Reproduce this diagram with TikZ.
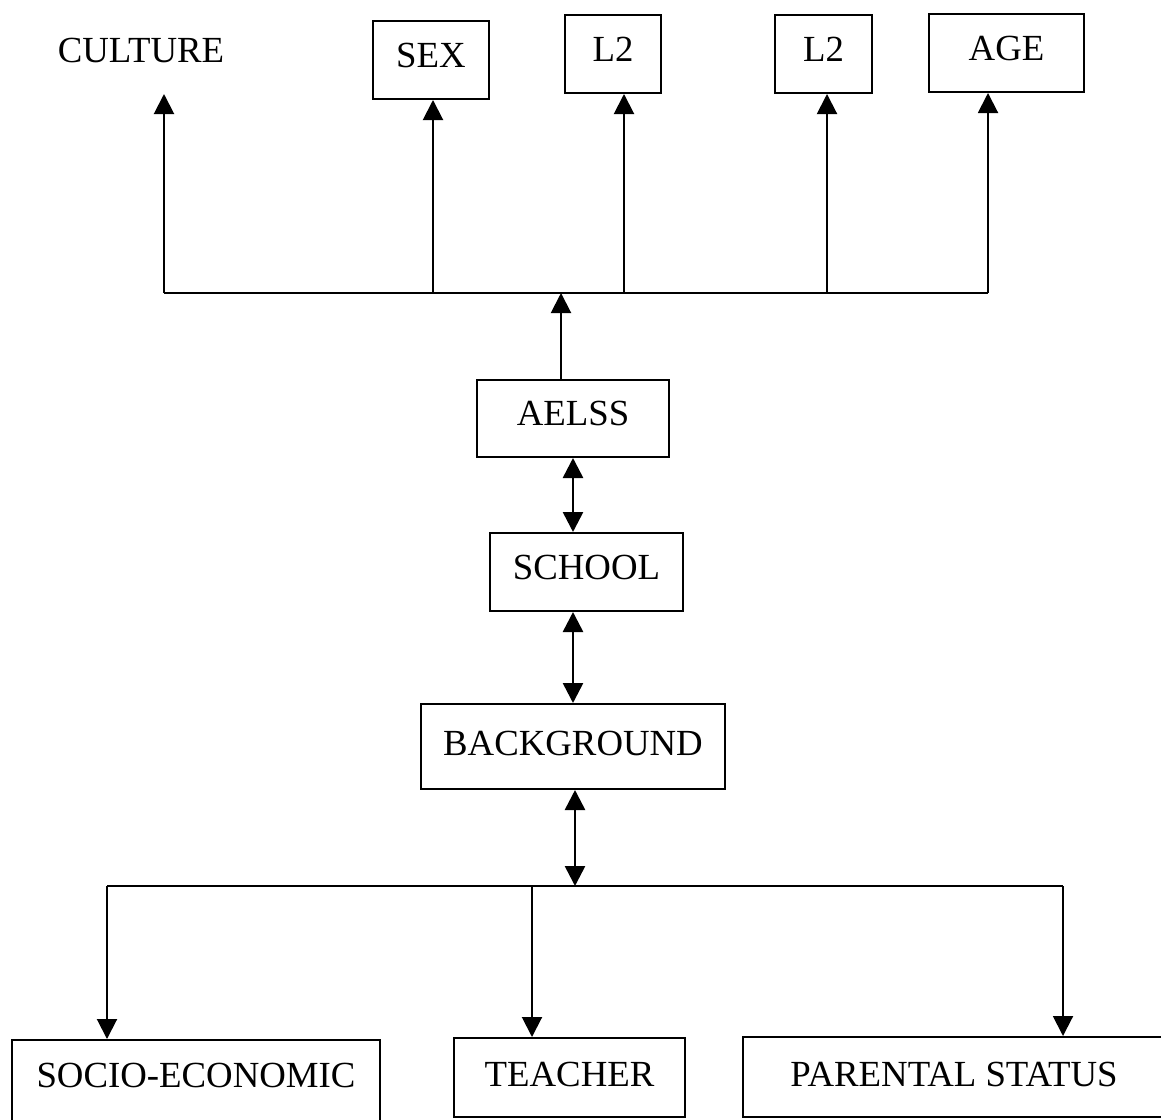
\documentclass[tikz,border=0pt]{standalone}
\usepackage{fontspec}
\setmainfont{Liberation Serif}
\usetikzlibrary{arrows.meta}

\begin{document}
\begin{tikzpicture}[x=0.5pt,y=-0.5pt,line width=1pt,>={Triangle[width=10pt,length=10pt]},
    box/.style={draw,inner sep=0pt,text depth=5pt,font=\fontsize{18.4}{22}\selectfont}]
                \useasboundingbox (0,0) rectangle (1161,1119);
                % top row
                \node[inner sep=0pt,minimum height=43pt,font=\fontsize{18.4}{22}\selectfont](culture) at (141,50) {CULTURE};
                \node[box,minimum width=58pt,minimum height=39pt](sex) at (431,60) {SEX};
                \node[box,minimum width=48pt,minimum height=39pt](lang1) at (613,54) {L2};
                \node[box,minimum width=48.5pt,minimum height=39pt](lang2) at (823.5,54) {L2};
                \node[box,minimum width=77.5pt,minimum height=39pt](age) at (1006.5,53) {AGE};
                % middle column
                \node[box,minimum width=96pt,minimum height=38.5pt](aelss) at (573,418.5) {AELSS};
                \node[box,minimum width=96.5pt,minimum height=39pt](school) at (586.5,572) {SCHOOL};
                \node[box,minimum width=152pt,minimum height=42.5pt,text depth=3pt](bg) at (573,746.5) {BACKGROUND};
                % bottom row (socio runs off the page)
                \node[box,minimum width=184pt,minimum height=44pt,text depth=9pt](socio) at (196,1084) {SOCIO-ECONOMIC};
                \node[box,minimum width=115.5pt,minimum height=39.5pt,text depth=3pt](teacher) at (569.5,1077.5) {TEACHER};
                \node[box,minimum width=211pt,minimum height=40pt,text depth=3pt](parent) at (954,1077) {PARENTAL STATUS};
                % junctions
                \coordinate (up0) at (561,293);
                \coordinate (up1) at (164,293);
                \coordinate (up2) at (433,293);
                \coordinate (up3) at (624,293);
                \coordinate (up4) at (827,293);
                \coordinate (up5) at (988,293);
                \coordinate (dn0) at (575,886);
                \coordinate (dn1) at (107,886);
                \coordinate (dn2) at (532,886);
                \coordinate (dn3) at (1063,886);
                \draw (up1) -- (up5);
                \draw (dn1) -- (dn3);
                \path[->]
                (aelss.north -| up0) edge (up0)
                (up1) edge (up1 |- culture.south)
                (up2) edge (up2 |- sex.south)
                (up3) edge (up3 |- lang1.south)
                (up4) edge (up4 |- lang2.south)
                (up5) edge (up5 |- age.south)
                (dn1) edge (dn1 |- socio.north)
                (dn2) edge (dn2 |- teacher.north)
                (dn3) edge (dn3 |- parent.north);
                \path[<->,line width=1.3pt]
                (aelss.south) edge (aelss.south |- school.north)
                (bg.north) edge (bg.north |- school.south)
                (bg.south -| dn0) edge (dn0);
            \end{tikzpicture}
\end{document}
